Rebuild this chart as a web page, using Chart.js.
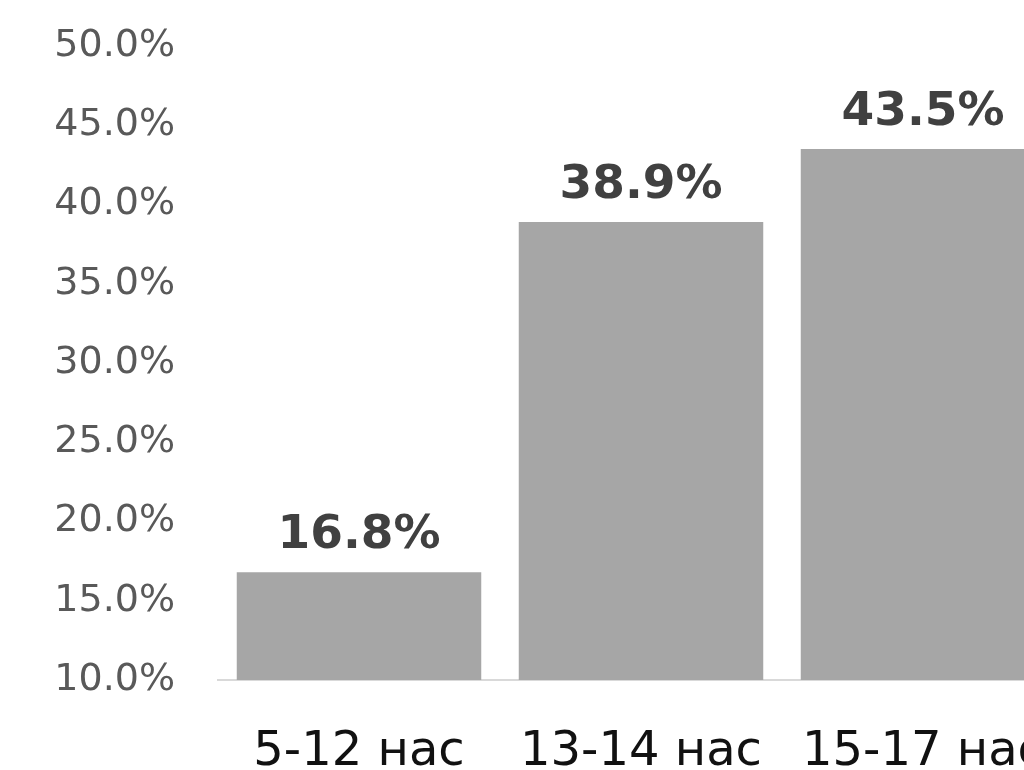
<!DOCTYPE html>
<html>
<head>
<meta charset="utf-8">
<script src="https://cdn.jsdelivr.net/npm/chart.js@4/dist/chart.umd.min.js"></script>
<style>
  html, body { margin: 0; padding: 0; background: #fff; overflow: hidden; }
  #wrap { width: 1024px; height: 770px; overflow: hidden; }
</style>
</head>
<body>
<div id="wrap"><canvas id="ageChart" width="1064" height="800"></canvas></div>
<script>
const ageGroups = ["5-12 нас", "13-14 нас", "15-17 нас"];
const shares = [16.8, 38.9, 43.5];
const yMin = 10;
const yMax = 50;
const yStep = 5;

// writes the value above each bar
const valueLabels = {
    id: 'valueLabels',
    afterDatasetsDraw(chart) {
        const ctx = chart.ctx;
        const meta = chart.getDatasetMeta(0);
        ctx.save();
        ctx.font = 'bold 47px "DejaVu Sans"';
        ctx.fillStyle = '#404040';
        ctx.textAlign = 'center';
        ctx.textBaseline = 'alphabetic';
        meta.data.forEach((bar, i) => {
            ctx.fillText(shares[i].toFixed(1) + '%', bar.x, bar.y - 24);
        });
        ctx.restore();
    }
};

const ageChart = new Chart(document.getElementById("ageChart"), {
    type: 'bar',
    data: {
        labels: ageGroups,
        datasets: [{
            data: shares,
            backgroundColor: '#a6a6a6',
            barPercentage: 0.867,
            categoryPercentage: 1
        }]
    },
    options: {
        responsive: false,
        animation: false,
        layout: { padding: { top: 46, left: 0, right: 0, bottom: 0 } },
        plugins: {
            legend: { display: false },
            tooltip: { enabled: false }
        },
        scales: {
            x: {
                // tick marks are hidden, their length only pushes the labels down
                grid: { display: false, drawTicks: true, tickLength: 44 },
                border: { display: true, color: '#d9d9d9', width: 2 },
                ticks: {
                    color: '#111111',
                    font: { family: 'DejaVu Sans', size: 48 },
                    padding: 0,
                    maxRotation: 0
                },
                afterFit(scale) { scale.height = 120; }
            },
            y: {
                min: yMin,
                max: yMax,
                grid: { display: false, drawTicks: true, tickLength: 43 },
                border: { display: false },
                ticks: {
                    stepSize: yStep,
                    color: '#595959',
                    font: { family: 'DejaVu Sans', size: 38 },
                    padding: 0,
                    callback: v => v.toFixed(1) + '%'
                },
                afterFit(scale) { scale.width = 218; }
            }
        }
    },
    plugins: [valueLabels]
});
</script>
</body>
</html>
